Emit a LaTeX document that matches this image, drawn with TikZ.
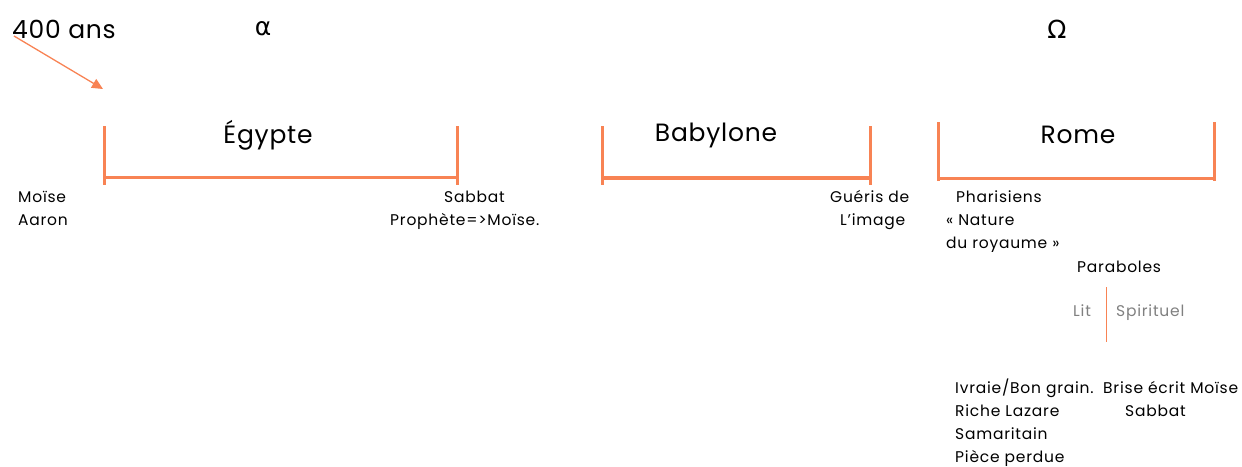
\documentclass[tikz,border=0pt]{standalone}
\usepackage{fontspec}
\setmainfont{Poppins}
\newfontfamily\greekfont{DejaVu Sans}
\usetikzlibrary{arrows.meta}
\definecolor{orng}{RGB}{248,131,84}
\definecolor{gtxt}{RGB}{128,128,128}
\tikzset{
  bar/.style={draw=orng, line width=3pt},
  big/.style={font=\fontsize{25}{30}\selectfont\addfontfeature{LetterSpace=3}, inner sep=0pt},
  small/.style={font=\fontsize{15.5}{18}\selectfont\addfontfeature{LetterSpace=5}, inner sep=0pt, anchor=base west},
  graytxt/.style={small, text=gtxt},
}
\begin{document}
\begin{tikzpicture}[x=1pt,y=-1pt]
\useasboundingbox (0,0) rectangle (1242,466);
% titles
\node[big, anchor=west] (ans) at (12,29) {400 ans};
\node[big] (alpha) at (263,29) {\greekfont α};
\node[big] (omega) at (1057,29) {\greekfont Ω};
\coordinate (arrS) at (14,36);
\coordinate (arrE) at (103,89);
\draw[draw=orng, line width=1.3pt, -{Triangle[length=11pt,width=10pt]}] (arrS) -- (arrE);
% Egypte
\coordinate (e1) at (104,126); \coordinate (e2) at (104,185);
\coordinate (e3) at (457,126); \coordinate (e4) at (457,185);
\coordinate (eh1) at (104,177); \coordinate (eh2) at (457,177);
\draw[bar] (e1) -- (e2) (e3) -- (e4) (eh1) -- (eh2);
\node[big] (egy) at (268,135) {Égypte};
% Babylone
\coordinate (b1) at (602,126); \coordinate (b2) at (602,185);
\coordinate (b3) at (870,126); \coordinate (b4) at (870,185);
\coordinate (bh1) at (602,178); \coordinate (bh2) at (870,178);
\draw[bar] (b1) -- (b2) (b3) -- (b4);
\draw[bar, line width=4pt] (bh1) -- (bh2);
\node[big] (bab) at (716,135) {Babylone};
% Rome
\coordinate (r1) at (938,122); \coordinate (r2) at (938,181);
\coordinate (r3) at (1214,122); \coordinate (r4) at (1214,181);
\coordinate (rh1) at (938,178); \coordinate (rh2) at (1214,178);
\draw[bar] (r1) -- (r2) (r3) -- (r4) (rh1) -- (rh2);
\node[big] (rome) at (1078,135) {Rome};
% small labels
\node[small] (moise) at (18,202) {Moïse};
\node[small] (aaron) at (18,225) {Aaron};
\node[small] (sab1) at (444,202) {Sabbat};
\node[small] (proph) at (390,225) {Prophète=>Moïse.};
\node[small] (gueris) at (830,202) {Guéris de};
\node[small] (image) at (840,225) {L’image};
\node[small] (phar) at (956,202) {Pharisiens};
\node[small] (nat) at (946,225) {« Nature};
\node[small] (roy) at (946,248) {du royaume »};
\node[small] (para) at (1077,272) {Paraboles};
\node[graytxt] (lit) at (1073,316) {Lit};
\node[graytxt] (spir) at (1116,316) {Spirituel};
\coordinate (v1) at (1106,287); \coordinate (v2) at (1106,342);
\draw[draw=orng, line width=1pt] (v1) -- (v2);
\node[small] (ivr) at (955,393) {Ivraie/Bon grain.};
\node[small] (riche) at (955,416) {Riche Lazare};
\node[small] (sama) at (955,439) {Samaritain};
\node[small] (piece) at (955,462) {Pièce perdue};
\node[small] (brise) at (1103,393) {Brise écrit Moïse};
\node[small] (sab2) at (1125,416) {Sabbat};
\end{tikzpicture}
\end{document}
